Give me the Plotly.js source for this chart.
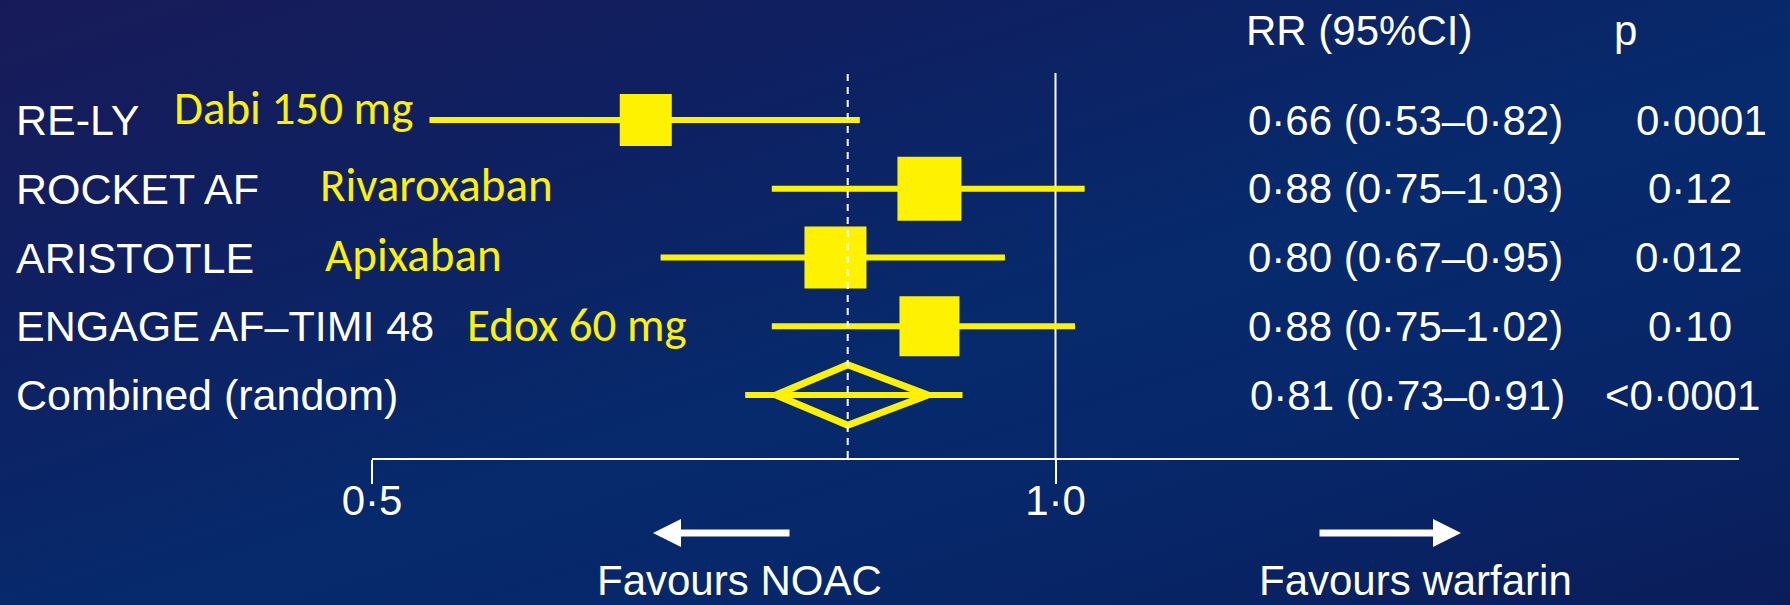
<!DOCTYPE html>
<html>
<head>
<meta charset="utf-8">
<script src="https://cdn.plot.ly/plotly-3.0.1.min.js"></script>
<style>
  html, body { margin: 0; padding: 0; background: #0b1f5e; }
  #chart {
    width: 1790px; height: 605px;
    background: linear-gradient(162deg, #181a58 0%, #0f2061 26%, #062a6c 55%, #072668 76%, #0b1c59 100%);
  }
</style>
</head>
<body>
<div id="chart"></div>
<script>
// Trials, drugs and relative risks (NOAC vs warfarin)
const studies = ['RE-LY', 'ROCKET AF', 'ARISTOTLE', 'ENGAGE AF–TIMI 48'];
const drugs = ['Dabi 150 mg', 'Rivaroxaban', 'Apixaban', 'Edox 60 mg'];
const rr = [0.66, 0.88, 0.80, 0.88];
const ciLow = [0.53, 0.75, 0.67, 0.75];
const ciHigh = [0.82, 1.03, 0.95, 1.02];
const pValues = ['0·0001', '0·12', '0·012', '0·10'];

// Pooled (random-effects) estimate
const pooledLabel = 'Combined (random)';
const pooledRR = 0.81;
const pooledLow = 0.73;
const pooledHigh = 0.91;
const pooledP = '<0·0001';

// Axis ticks
const tickValues = [0.5, 1.0];
const tickLabels = ['0·5', '1·0'];

// ---- styling ----
const W = 1790, H = 605;
const M = { l: 372, r: 51, t: 73, b: 147 };
const plotW = W - M.l - M.r, plotH = H - M.t - M.b;
const YELLOW = '#fff200';
const WHITE = '#ffffff';
const SANS = '"Liberation Sans", Arial, Helvetica, sans-serif';
const HUMANIST = 'Calibri, Carlito, Lato, "Open Sans", sans-serif';
const boxSizes = [52, 64, 62, 60];
const drugLabelX = [172, 318, 323, 465];
const drugLabelShift = [12, 4, 3, 1];
const pValueX = [1634, 1646, 1633, 1646];
const pooledPX = 1603;
const diamondSpan = 0.7;      // share of the CI (log scale) covered by the diamond
const diamondHalfHeight = 0.44;

const px2paperX = px => (px - M.l) / plotW;
const py2paperY = py => (H - M.b - py) / plotH;
const fmt = v => v.toFixed(2).replace('.', '·');

const pooledRow = studies.length;

const traces = [];

// Confidence interval whiskers
studies.forEach((s, i) => {
  traces.push({
    type: 'scatter', mode: 'lines',
    x: [ciLow[i], ciHigh[i]], y: [i, i],
    line: { color: YELLOW, width: 6 },
    hoverinfo: 'skip'
  });
});
traces.push({
  type: 'scatter', mode: 'lines',
  x: [pooledLow, pooledHigh], y: [pooledRow, pooledRow],
  line: { color: YELLOW, width: 6 },
  hoverinfo: 'skip'
});

// Point estimates
traces.push({
  type: 'scatter', mode: 'markers',
  x: rr, y: studies.map((s, i) => i),
  marker: { symbol: 'square', size: boxSizes, color: YELLOW, opacity: 1, line: { width: 0 } },
  hoverinfo: 'x'
});

// Pooled diamond
const lnE = Math.log(pooledRR);
const dLeft = Math.exp(lnE + diamondSpan * (Math.log(pooledLow) - lnE));
const dRight = Math.exp(lnE + diamondSpan * (Math.log(pooledHigh) - lnE));
traces.push({
  type: 'scatter', mode: 'lines',
  x: [dLeft, pooledRR, dRight, pooledRR, dLeft],
  y: [pooledRow, pooledRow - diamondHalfHeight, pooledRow, pooledRow + diamondHalfHeight, pooledRow],
  line: { color: YELLOW, width: 7 },
  hoverinfo: 'skip'
});

const annotations = [];
const whiteText = (text, x, y, opts = {}) => Object.assign({
  text, x, y, xref: 'paper', yref: 'y', xanchor: 'left', yanchor: 'middle',
  showarrow: false, font: { family: SANS, size: 42, color: WHITE }
}, opts);
const labelFont = { family: SANS, size: 43, color: WHITE };

// Row labels, drug names and results columns
studies.forEach((s, i) => {
  annotations.push(whiteText(s, px2paperX(14), i, { font: labelFont }));
  annotations.push({
    text: drugs[i], x: px2paperX(drugLabelX[i]), y: i, yshift: drugLabelShift[i],
    xref: 'paper', yref: 'y', xanchor: 'left', yanchor: 'middle', showarrow: false,
    font: { family: HUMANIST, size: 47, color: YELLOW }
  });
  annotations.push(whiteText(`${fmt(rr[i])} (${fmt(ciLow[i])}–${fmt(ciHigh[i])})`, px2paperX(1246), i));
  annotations.push(whiteText(pValues[i], px2paperX(pValueX[i]), i));
});
annotations.push(whiteText(pooledLabel, px2paperX(14), pooledRow, { font: labelFont }));
annotations.push(whiteText(`${fmt(pooledRR)} (${fmt(pooledLow)}–${fmt(pooledHigh)})`, px2paperX(1248), pooledRow));
annotations.push(whiteText(pooledP, px2paperX(pooledPX), pooledRow));

// Column headers
annotations.push(whiteText('RR (95%CI)', px2paperX(1244), py2paperY(31), { yref: 'paper' }));
annotations.push(whiteText('p', px2paperX(1612), py2paperY(31), { yref: 'paper' }));

// Direction arrows and captions
annotations.push({
  x: px2paperX(653), y: py2paperY(533), xref: 'paper', yref: 'paper',
  ax: 138, ay: 0, text: '', showarrow: true,
  arrowhead: 2, arrowsize: 0.8, arrowwidth: 7, arrowcolor: WHITE
});
annotations.push({
  x: px2paperX(1461), y: py2paperY(533), xref: 'paper', yref: 'paper',
  ax: -143, ay: 0, text: '', showarrow: true,
  arrowhead: 2, arrowsize: 0.8, arrowwidth: 7, arrowcolor: WHITE
});
annotations.push(whiteText('Favours NOAC', px2paperX(739), py2paperY(580), { yref: 'paper', xanchor: 'center' }));
annotations.push(whiteText('Favours warfarin', px2paperX(1415), py2paperY(580), { yref: 'paper', xanchor: 'center' }));

// Reference lines: no effect (1·0) and pooled estimate
const shapes = [
  { type: 'line', xref: 'x', yref: 'paper', x0: 1, x1: 1, y0: 0, y1: 1,
    line: { color: WHITE, width: 2 }, layer: 'below' },
  { type: 'line', xref: 'x', yref: 'paper', x0: pooledRR, x1: pooledRR, y0: 0, y1: 1,
    line: { color: WHITE, width: 2, dash: '7px,6px' }, layer: 'above' }
];

// Row placement: first row 120 px from the top, rows 68.75 px apart
const rowPx = 68.75;
const firstRowPx = 120;
const yTop = -(firstRowPx - M.t) / rowPx;
const yBottom = (H - M.b - firstRowPx) / rowPx;

const layout = {
  width: W, height: H,
  margin: M,
  paper_bgcolor: 'rgba(0,0,0,0)',
  plot_bgcolor: 'rgba(0,0,0,0)',
  showlegend: false,
  xaxis: {
    type: 'log',
    range: [Math.log10(0.5), Math.log10(2)],
    showgrid: false, zeroline: false,
    showline: true, linecolor: WHITE, linewidth: 2,
    ticks: 'outside', ticklen: 24, tickwidth: 2, tickcolor: WHITE,
    ticklabelstandoff: -19,
    tickvals: tickValues, ticktext: tickLabels,
    tickfont: { family: SANS, size: 42, color: WHITE },
    fixedrange: true
  },
  yaxis: {
    range: [yBottom, yTop],
    visible: false, showgrid: false, zeroline: false,
    fixedrange: true
  },
  shapes, annotations
};

Plotly.newPlot('chart', traces, layout, { displayModeBar: false, staticPlot: true });
</script>
</body>
</html>
